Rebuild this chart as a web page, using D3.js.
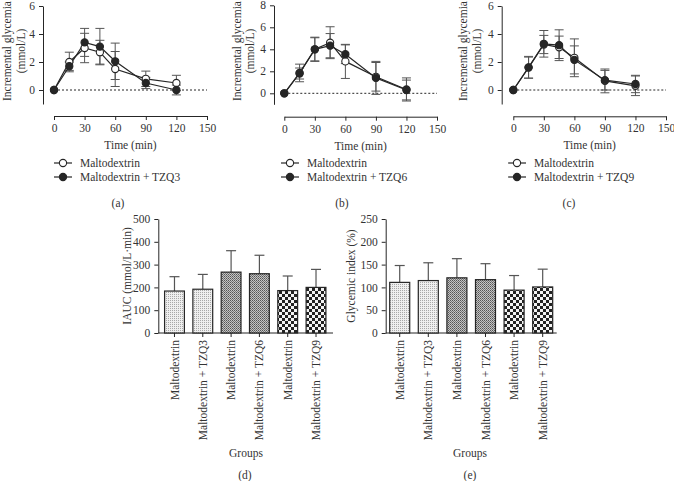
<!DOCTYPE html>
<html><head><meta charset="utf-8">
<script src="https://cdn.jsdelivr.net/npm/d3@7"></script>
<style>body{margin:0;background:#fff}svg text{font-family:"Liberation Serif","Times New Roman",serif;fill:#333}</style>
</head><body>
<script>
// ---------- data ----------
const times = [0, 15, 30, 45, 60, 90, 120];
const timeTicks = [0, 30, 60, 90, 120, 150];

const aMalto   = [0, 2.0, 3.0, 2.7, 1.5, 0.8, 0.5];
const aMaltoSD = [0, 0.7, 1.05, 0.85, 1.25, 0.55, 0.55];
const aTZQ3    = [0, 1.7, 3.4, 3.1, 2.05, 0.5, 0.0];
const aTZQ3SD  = [0, 0.3, 1.0, 1.3, 1.3, 0.4, 0.35];

const bMalto   = [0, 1.85, 4.0, 4.6, 2.9, 1.5, 0.35];
const bMaltoSD = [0, 0.8, 1.05, 1.45, 1.55, 1.3, 1.05];
const bTZQ6    = [0, 1.8, 4.0, 4.33, 3.55, 1.4, 0.3];
const bTZQ6SD  = [0, 0.5, 1.1, 1.1, 0.85, 1.5, 0.9];

const cMalto   = [0, 1.6, 3.25, 3.05, 2.3, 0.65, 0.3];
const cMaltoSD = [0, 0.75, 0.65, 0.8, 1.35, 0.85, 0.7];
const cTZQ9    = [0, 1.62, 3.3, 3.2, 2.15, 0.7, 0.43];
const cTZQ9SD  = [0, 0.78, 0.95, 1.1, 1.0, 0.7, 0.62];

const groups = ["Maltodextrin", "Maltodextrin + TZQ3", "Maltodextrin", "Maltodextrin + TZQ6", "Maltodextrin", "Maltodextrin + TZQ9"];
const iauc   = [184, 192, 267, 260, 186, 200];
const iaucSD = [63, 65, 94, 81, 64, 79];
const gi     = [111, 115, 121, 117, 94, 101];
const giSD   = [37, 39, 42, 35, 32, 39];

const iaucTicks = [0, 100, 200, 300, 400, 500];
const giTicks = [0, 50, 100, 150, 200, 250];

// ---------- drawing ----------
const W = 674, H = 481;
const svg = d3.select("body").append("svg").attr("width", W).attr("height", H)
  .attr("font-family", "Liberation Serif, serif");
const INK = "#262626";

// patterns
const defs = svg.append("defs");
const p1 = defs.append("pattern").attr("id", "p1").attr("patternUnits", "userSpaceOnUse").attr("width", 2).attr("height", 2);
p1.append("rect").attr("width", 2).attr("height", 2).attr("fill", "#efefef");
p1.append("rect").attr("width", 1).attr("height", 1).attr("fill", "#a8a8a8");
const p2 = defs.append("pattern").attr("id", "p2").attr("patternUnits", "userSpaceOnUse").attr("width", 2).attr("height", 2);
p2.append("rect").attr("width", 2).attr("height", 2).attr("fill", "#c4c4c4");
p2.append("rect").attr("width", 1).attr("height", 1).attr("fill", "#555");
p2.append("rect").attr("x", 1).attr("y", 1).attr("width", 1).attr("height", 1).attr("fill", "#777");
const p3 = defs.append("pattern").attr("id", "p3").attr("patternUnits", "userSpaceOnUse").attr("width", 6).attr("height", 6);
p3.append("rect").attr("width", 6).attr("height", 6).attr("fill", "#f4f4f4");
p3.append("rect").attr("width", 3).attr("height", 3).attr("fill", "#222");
p3.append("rect").attr("x", 3).attr("y", 3).attr("width", 3).attr("height", 3).attr("fill", "#222");
const barFill = ["url(#p1)", "url(#p1)", "url(#p2)", "url(#p2)", "url(#p3)", "url(#p3)"];

function styleAxis(g) {
  g.attr("font-family", "Liberation Serif, serif");
  g.selectAll("path,line").attr("stroke", INK).attr("stroke-width", 1);
  g.selectAll("text").attr("font-size", 11.5).attr("fill", "#333");
}

function linePanel(c) {
  const y = d3.scaleLinear().domain(c.yDomain).range([c.yBottom, c.yTop]);
  const x = d3.scaleLinear().domain([0, 150]).range(c.xRange);
  const gy = svg.append("g").attr("transform", `translate(${c.axisX},0)`)
    .call(d3.axisLeft(y).tickValues(c.yTicks).tickSize(4).tickPadding(4).tickSizeOuter(0).tickFormat(d3.format("d")));
  styleAxis(gy);
  const gx = svg.append("g").attr("transform", `translate(0,${c.xAxisY})`)
    .call(d3.axisBottom(x).tickValues(timeTicks).tickSize(4).tickPadding(4).tickSizeOuter(0));
  styleAxis(gx);
  // zero line
  svg.append("line").attr("x1", x(0)).attr("x2", x(150)).attr("y1", y(0)).attr("y2", y(0))
    .attr("stroke", INK).attr("stroke-width", 1).attr("stroke-dasharray", "2,2");
  // error bars
  c.series.forEach(s => {
    times.forEach((t, i) => {
      if (!s.sd[i]) return;
      const cx = x(t), top = y(s.v[i] + s.sd[i]), bot = y(s.v[i] - s.sd[i]);
      svg.append("line").attr("x1", cx).attr("x2", cx).attr("y1", top).attr("y2", bot).attr("stroke", "#555").attr("stroke-width", 1);
      [top, bot].forEach(yy => svg.append("line").attr("x1", cx - 4.5).attr("x2", cx + 4.5).attr("y1", yy).attr("y2", yy).attr("stroke", "#555").attr("stroke-width", 1));
    });
  });
  const line = d3.line().x((d, i) => x(times[i])).y(d => y(d));
  c.series.forEach(s => {
    svg.append("path").datum(s.v).attr("d", line).attr("fill", "none").attr("stroke", INK).attr("stroke-width", 1.2);
  });
  c.series.forEach(s => {
    svg.selectAll(null).data(s.v).enter().append("circle")
      .attr("cx", (d, i) => x(times[i])).attr("cy", d => y(d)).attr("r", 3.6)
      .attr("fill", s.filled ? INK : "#fff").attr("stroke", INK).attr("stroke-width", 1.1);
  });
  // axis titles
  svg.append("text").attr("x", (c.xRange[0] + c.xRange[1]) / 2).attr("y", c.xAxisY + 33)
    .attr("text-anchor", "middle").attr("font-size", 11.5).text("Time (min)");
  [["Incremental glycemia", c.t1], ["(mmol/L)", c.t2]].forEach(([txt, tx]) => {
    svg.append("text").attr("transform", `translate(${tx},${c.tY}) rotate(-90)`)
      .attr("text-anchor", "middle").attr("dy", "0.35em").attr("font-size", 11.5).text(txt);
  });
  // legend
  c.series.forEach((s, k) => {
    const ly = 163 + k * 14;
    svg.append("line").attr("x1", c.legX).attr("x2", c.legX + 18).attr("y1", ly).attr("y2", ly).attr("stroke", INK).attr("stroke-width", 1.2);
    svg.append("circle").attr("cx", c.legX + 9).attr("cy", ly).attr("r", 3.6)
      .attr("fill", s.filled ? INK : "#fff").attr("stroke", INK).attr("stroke-width", 1.1);
    svg.append("text").attr("x", c.legX + 26).attr("y", ly).attr("dy", "0.35em").attr("font-size", 11.5).text(s.name);
  });
  svg.append("text").attr("x", c.labX).attr("y", 207).attr("text-anchor", "middle").attr("font-size", 11.5).text(c.label);
}

linePanel({
  yDomain: [-1, 6], yTicks: [0, 2, 4, 6], yTop: 6, yBottom: 104, axisX: 43,
  xRange: [54, 207], xAxisY: 116, t1: 7, t2: 21, tY: 51, legX: 54, labX: 118, label: "(a)",
  series: [{ v: aMalto, sd: aMaltoSD, filled: false, name: "Maltodextrin" },
           { v: aTZQ3, sd: aTZQ3SD, filled: true, name: "Maltodextrin + TZQ3" }]
});
linePanel({
  yDomain: [-1, 8], yTicks: [0, 2, 4, 6, 8], yTop: 5.3, yBottom: 104.3, axisX: 274,
  xRange: [284.3, 437], xAxisY: 116.7, t1: 236.5, t2: 250, tY: 51, legX: 281, labX: 342, label: "(b)",
  series: [{ v: bMalto, sd: bMaltoSD, filled: false, name: "Maltodextrin" },
           { v: bTZQ6, sd: bTZQ6SD, filled: true, name: "Maltodextrin + TZQ6" }]
});
linePanel({
  yDomain: [-1, 6], yTicks: [0, 2, 4, 6], yTop: 6, yBottom: 104, axisX: 501.7,
  xRange: [513.3, 666], xAxisY: 116.3, t1: 463, t2: 476.5, tY: 51, legX: 508, labX: 569, label: "(c)",
  series: [{ v: cMalto, sd: cMaltoSD, filled: false, name: "Maltodextrin" },
           { v: cTZQ9, sd: cTZQ9SD, filled: true, name: "Maltodextrin + TZQ9" }]
});

function barPanel(c) {
  const y = d3.scaleLinear().domain([0, c.ticks[c.ticks.length - 1]]).range([333, 219]);
  const x = d3.scaleBand().domain(d3.range(groups.length)).range(c.xRange).paddingInner(0.3).paddingOuter(c.po);
  const gy = svg.append("g").attr("transform", `translate(${c.axisX},0)`)
    .call(d3.axisLeft(y).tickValues(c.ticks).tickSize(4).tickPadding(4).tickSizeOuter(0));
  styleAxis(gy);
  svg.append("line").attr("x1", c.axisX).attr("x2", c.xRange[1]).attr("y1", 333).attr("y2", 333).attr("stroke", INK);
  // error bars
  c.vals.forEach((v, i) => {
    const cx = x(i) + x.bandwidth() / 2;
    svg.append("line").attr("x1", cx).attr("x2", cx).attr("y1", y(v)).attr("y2", y(v + c.sd[i])).attr("stroke", "#555").attr("stroke-width", 1.2);
    svg.append("line").attr("x1", cx - 5).attr("x2", cx + 5).attr("y1", y(v + c.sd[i])).attr("y2", y(v + c.sd[i])).attr("stroke", "#555").attr("stroke-width", 1.2);
  });
  svg.selectAll(null).data(c.vals).enter().append("rect")
    .attr("x", (d, i) => x(i)).attr("width", x.bandwidth())
    .attr("y", d => y(d)).attr("height", d => 333 - y(d))
    .attr("fill", (d, i) => barFill[i]).attr("stroke", INK).attr("stroke-width", 1.2);
  // x ticks + labels
  groups.forEach((g, i) => {
    const cx = x(i) + x.bandwidth() / 2;
    svg.append("line").attr("x1", cx).attr("x2", cx).attr("y1", 333).attr("y2", 337).attr("stroke", INK);
    svg.append("text").attr("transform", `translate(${cx},340) rotate(-90)`)
      .attr("text-anchor", "end").attr("dy", "0.35em").attr("font-size", 11.5).text(g);
  });
  svg.append("text").attr("transform", `translate(${c.titleX},276) rotate(-90)`)
    .attr("text-anchor", "middle").attr("dy", "0.35em").attr("font-size", 11.5).text(c.title);
  svg.append("text").attr("x", c.groupsX).attr("y", 457).attr("text-anchor", "middle").attr("font-size", 11.5).text("Groups");
  svg.append("text").attr("x", c.labX).attr("y", 479).attr("text-anchor", "middle").attr("font-size", 11.5).text(c.label);
}

barPanel({ vals: iauc, sd: iaucSD, ticks: iaucTicks, axisX: 158.3, xRange: [157.5, 333], po: 0.25,
  title: "IAUC (mmol/L·min)", titleX: 127, groupsX: 246, labX: 245, label: "(d)" });
barPanel({ vals: gi, sd: giSD, ticks: giTicks, axisX: 385.7, xRange: [385.7, 556.7], po: 0.14,
  title: "Glycemic index (%)", titleX: 351, groupsX: 470, labX: 470, label: "(e)" });
</script>
</body></html>
